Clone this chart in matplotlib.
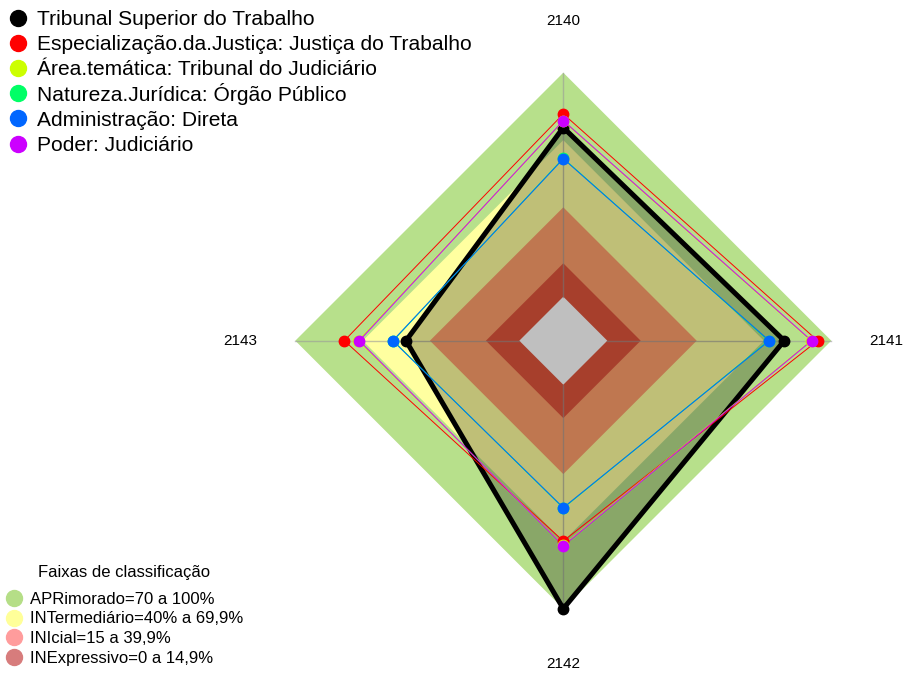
import numpy as np
import matplotlib
matplotlib.use("Agg")
import matplotlib.pyplot as plt
from matplotlib.lines import Line2D
from matplotlib.transforms import ScaledTranslation

plt.rcParams['font.family'] = ['Liberation Sans', 'DejaVu Sans']

# ---- data ----
axes_labels = ["2140", "2141", "2142", "2143"]
series_names = [
    "Tribunal Superior do Trabalho",
    "Especialização.da.Justiça: Justiça do Trabalho",
    "Área.temática: Tribunal do Judiciário",
    "Natureza.Jurídica: Órgão Público",
    "Administração: Direta",
    "Poder: Judiciário",
]
tst = [75.5, 79.0, 100.0, 50.6]
especializacao = [81.6, 93.9, 69.8, 78.1]
area_tematica = [78.4, 91.0, 71.6, 71.9]
natureza = [61.8, 72.0, 55.1, 56.3]
administracao = [61.6, 72.3, 54.9, 56.5]
poder = [78.6, 91.2, 71.9, 71.4]
series_colors = ["#000000", "#FF0000", "#CCFF00", "#00FF66", "#0066FF", "#CC00FF"]

band_title = "Faixas de classificação"
band_names = ["APRimorado=70 a 100%", "INTermediário=40% a 69,9%",
              "INIcial=15 a 39,9%", "INExpressivo=0 a 14,9%"]
band_limits = [100.0, 69.9, 39.9, 14.9]
band_colors = ["#B7E08B", "#FFFFA0", "#FFA06B", "#E0553C"]
legend_band_colors = ["#B5DE87", "#FFFF99", "#FF9C9C", "#D77C7C"]

# ---- figure ----
W, H = 905, 675
fig = plt.figure(figsize=(W / 100, H / 100), dpi=100)
cx, cy, R = 563.3, 675 - 340.7, 268.0
ax = fig.add_axes([(cx - R) / W, (cy - R) / H, 2 * R / W, 2 * R / H], projection='polar')
ax.set_theta_zero_location('N')
ax.set_theta_direction(-1)
ax.set_rlim(0, 100)
ax.set_rorigin(-100 * 44 / (R - 44))
ax.grid(False)
ax.set_xticks([])
ax.set_yticks([])
ax.axis('off')

n = len(axes_labels)
theta = np.arange(n) * 2 * np.pi / n
theta_c = np.append(theta, theta[0])

def closed(v):
    v = list(v)
    return v + [v[0]]

# bands
for lim, col in zip(band_limits, band_colors):
    ax.fill(theta_c, [lim] * (n + 1), color=col, lw=0, zorder=1, clip_on=False)
ax.fill(theta_c, [0] * (n + 1), color="white", lw=0, zorder=1, clip_on=False)

# axis spokes
for t in theta:
    ax.plot([t, t], [0, 100], color="#9a9a9a", lw=1, alpha=0.6, zorder=2, clip_on=False)

# main series
ax.fill(theta_c, closed(tst), color="black", alpha=0.25, lw=0, zorder=3, clip_on=False)
ax.plot(theta_c, closed(tst), color="black", lw=3.6, zorder=4, solid_joinstyle='miter',
        clip_on=False)
ax.plot(theta, tst, 'o', color="black", ms=7.5, zorder=5, clip_on=False)

others = [especializacao, area_tematica, natureza, administracao, poder]
for vals, col in zip(others, series_colors[1:]):
    ax.plot(theta_c, closed(vals), color=col, lw=0.7, zorder=6, clip_on=False)
    ax.plot(theta, vals, 'o', color=col, ms=7.5, zorder=7, clip_on=False)

# axis labels
offs = [(0, 0.52), (0.55, 0), (0, -0.55), (-0.55, 0)]
for t, lab, (dx, dy) in zip(theta, axes_labels, offs):
    ax.text(t, 100, lab, ha='center', va='center', fontsize=11, zorder=8, clip_on=False,
            transform=ax.transData + ScaledTranslation(dx, dy, fig.dpi_scale_trans))

# top legend (uniform rows, pixel layout)
lax = fig.add_axes([0, 0, 1, 1])
lax.set_xlim(0, W)
lax.set_ylim(H, 0)
lax.axis('off')
row0, pitch = 17.5, 25.2
for i, (name, col) in enumerate(zip(series_names, series_colors)):
    yy = row0 + i * pitch
    lax.plot([18], [yy], 'o', color=col, ms=11.5)
    lax.text(37, yy + 7.5, name, va='baseline', ha='left', fontsize=15.1)

# bottom legend
h2 = [Line2D([], [], marker='o', ls='', color=c, ms=11.5) for c in legend_band_colors]
fig.legend(h2, band_names, loc='lower left', bbox_to_anchor=(0.0, 4 / H),
           frameon=False, fontsize=12, handlelength=1.1, handletextpad=0.4,
           labelspacing=0.29, borderaxespad=0.0, borderpad=0.3)
fig.text(124 / W, 1 - 572 / H, band_title, ha='center', va='center', fontsize=12)

fig.savefig("out.png", dpi=100)
